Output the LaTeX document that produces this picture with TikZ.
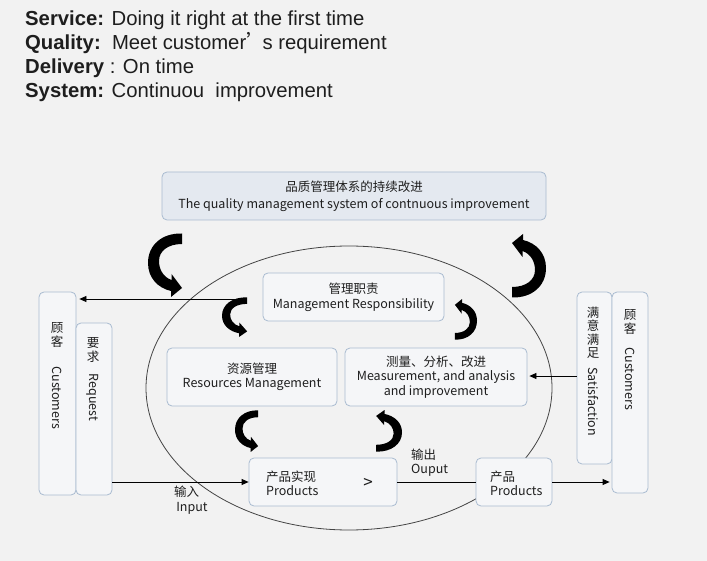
\documentclass[tikz,border=0pt]{standalone}
\usepackage{fontspec}
\setmainfont{Liberation Sans}
\newfontfamily\cjk{Noto Sans CJK SC}
\usetikzlibrary{arrows.meta}
\definecolor{bgc}{HTML}{F2F2F2}
\definecolor{boxline}{HTML}{A9BBD0}
\definecolor{boxfill}{HTML}{F5F6F8}
\definecolor{topfill}{HTML}{E4E9F0}
\definecolor{txt}{HTML}{1E1E1E}
\definecolor{ellc}{HTML}{444444}
\newcommand\curvedarrow[4]{%
  \fill[black, shift={(#1,#2)}, xscale=#3, yscale=#4]
    (34,0.5) .. controls (14,0) and (0,12) .. (0,30)
    .. controls (0,45) and (10,55) .. (23,58)
    -- (23,64) -- (34,55) -- (23.5,41) -- (23.5,47)
    .. controls (15,44) and (11,36) .. (11,28)
    .. controls (11,18) and (20,11) .. (34,11) -- cycle;}
\tikzset{
  box/.style={draw=boxline, fill=boxfill, rounded corners=5pt, line width=0.8pt, inner sep=0pt},
  topbox/.style={box, fill=topfill},
  lbl/.style={font=\cjk\fontsize{12.5}{15}\selectfont, text=txt, inner sep=0pt},
  head/.style={font=\fontsize{20.3}{24}\selectfont, text=txt, inner sep=0pt, anchor=base west},
  conn/.style={draw=black, line width=0.8pt},
  tip/.style={-{Triangle[length=7pt,width=6pt]}},
}
\begin{document}
\begin{tikzpicture}[x=1pt,y=-1pt]
\fill[bgc] (0,0) rectangle (707,561);
\useasboundingbox (0,0) rectangle (707,561);

% heading text
\node[head] (l1) at (25,26) {\textbf{Service:} Doing it right at the first time};
\node[head] (l2) at (25,50) {\textbf{Quality:}\ \ Meet customer{\cjk ’}\kern-4pt s requirement};
\node[head] (l3) at (25,74) {\textbf{Delivery} : On time};
\node[head] (l4) at (25,98) {\textbf{System:} Continuou\ \ improvement};

% ellipse
\draw[ellc, line width=0.8pt] (349,388) ellipse [x radius=203pt, y radius=142pt];

% top box
\node[topbox, lbl, minimum width=384pt, minimum height=48pt, align=center,
  font=\cjk\fontsize{12.5}{17}\selectfont] (qms) at (354,196)
  {品质管理体系的持续改进\\The quality management system of contnuous improvement};

% inner boxes
\node[box, lbl, minimum width=181pt, minimum height=48pt, align=center] (mr) at (353.5,297)
  {管理职责\\Management Responsibility};
\node[box, lbl, minimum width=170pt, minimum height=58pt, align=center,
  font=\cjk\fontsize{12.5}{14}\selectfont] (rm) at (252,377)
  {资源管理\\Resources Management};
\node[box, lbl, minimum width=182pt, minimum height=58pt, align=center,
  font=\cjk\fontsize{12.5}{14.5}\selectfont] (mai) at (436,377)
  {测量、分析、改进\\Measurement, and analysis\\and improvement};
\node[box, minimum width=148pt, minimum height=48pt] (prod) at (323,482) {};
\node[lbl, anchor=west, align=left, font=\cjk\fontsize{12.5}{14}\selectfont] (prodtxt) at (266,483) {产品实现\\Products};
\node[lbl, font=\cjk\fontsize{17}{17}\selectfont] (prodgt) at (368,483) {>};
\node[box, minimum width=76pt, minimum height=48pt] (prodout) at (514,482) {};
\node[lbl, anchor=west, align=left, font=\cjk\fontsize{12.5}{14}\selectfont] (prodouttxt) at (490,483) {产品\\Products};

% side boxes
\node[box, minimum width=37pt, minimum height=203pt] (custL) at (57.5,393.5) {};
\node[box, minimum width=36pt, minimum height=172pt] (req) at (94,409) {};
\node[box, minimum width=35pt, minimum height=172pt] (sat) at (594.5,378) {};
\node[box, minimum width=36pt, minimum height=201pt] (custR) at (630,392.5) {};

\node[lbl, align=center, font=\cjk\fontsize{12.5}{14}\selectfont] (custLzh) at (57,335) {顾\\客};
\node[lbl, rotate=-90] (custLen) at (57,398) {Customers};
\node[lbl, align=center, font=\cjk\fontsize{12.5}{14}\selectfont] (reqzh) at (93,350) {要\\求};
\node[lbl, rotate=-90] (reqen) at (93,397.5) {Request};
\node[lbl, align=center, font=\cjk\fontsize{12.5}{13.5}\selectfont] (satzh) at (593,333) {满\\意\\满\\足};
\node[lbl, rotate=-90] (saten) at (593,401.5) {Satisfaction};
\node[lbl, align=center, font=\cjk\fontsize{12.5}{14}\selectfont] (custRzh) at (630,321.5) {顾\\客};
\node[lbl, rotate=-90] (custRen) at (630,379) {Customers};

% connectors
\coordinate (mrline) at (245,299);
\draw[conn, tip, shorten >=3pt] (mrline) -- (mrline -| custL.east);
\draw[conn, tip] (req.east |- prod.west) -- (prod.west);
\draw[conn] (prod.east) -- (prodout.west);
\draw[conn, tip, shorten >=2pt] (prodout.east) -- (prodout.east -| custR.west);
\coordinate (satline) at (sat.west |- 0,376);
\draw[conn, tip, shorten >=2pt] (satline) -- (satline -| mai.east);

% labels on connectors
\node[lbl, anchor=north west, align=left, font=\cjk\fontsize{12.5}{15}\selectfont] (inlab) at (174,486) {输入\\\,Input};
\node[lbl, anchor=south west, align=left, font=\cjk\fontsize{12.5}{14}\selectfont] (outlab) at (411,477) {输出\\Ouput};

% curved block arrows
\curvedarrow{148}{233}{1}{1}
\curvedarrow{546}{298}{-1}{-1}
\curvedarrow{222}{297}{0.74}{0.625}
\curvedarrow{235}{410}{0.68}{0.656}
\curvedarrow{477}{340}{-0.65}{-0.64}
\curvedarrow{402}{452}{-0.76}{-0.656}
\end{tikzpicture}
\end{document}
